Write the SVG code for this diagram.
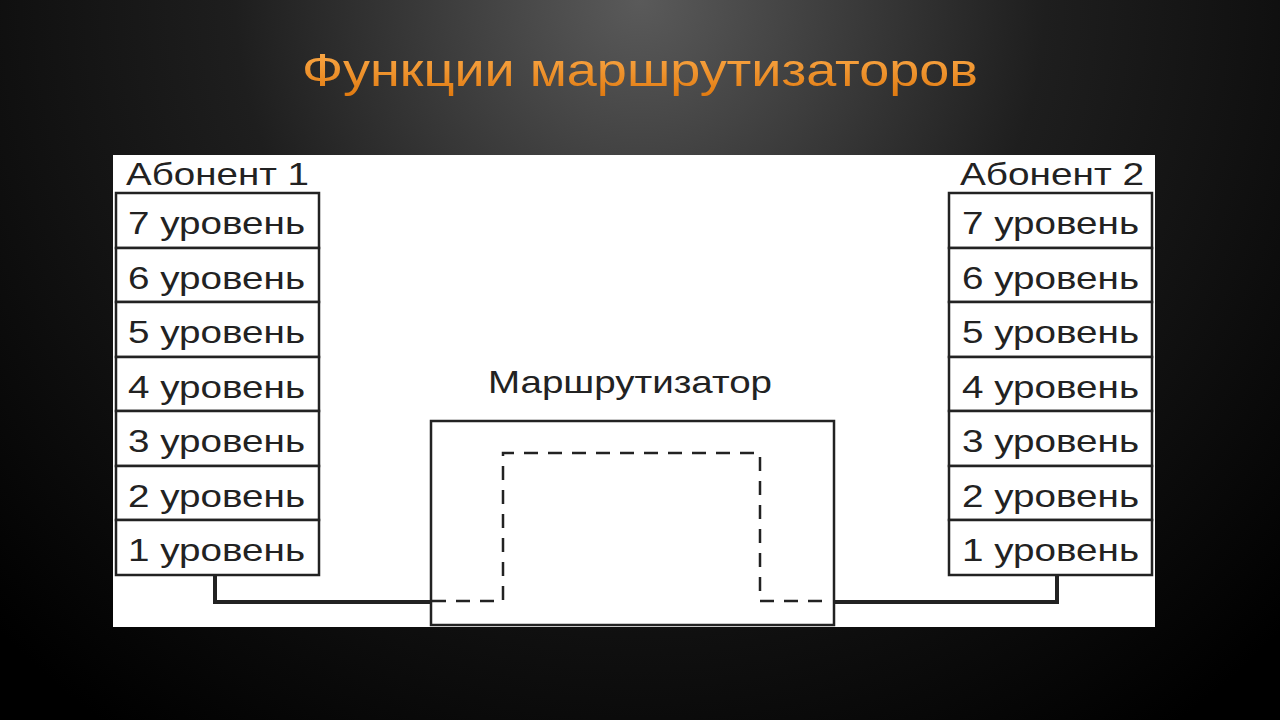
<svg xmlns="http://www.w3.org/2000/svg" width="1280" height="720" viewBox="0 0 1280 720">
<defs>
<radialGradient id="bg" cx="640" cy="0" r="900" gradientUnits="userSpaceOnUse">
<stop offset="0" stop-color="#5a5a5a"/><stop offset="0.45" stop-color="#1e1e1e"/><stop offset="1" stop-color="#000"/>
</radialGradient>
<linearGradient id="tg" x1="0" y1="0" x2="0" y2="1"><stop offset="0" stop-color="#ffb050"/><stop offset="1" stop-color="#e07a10"/></linearGradient>
<style>
.b{fill:#fff;stroke:#222;stroke-width:2.5}
.t{font-family:"Liberation Sans",Arial,sans-serif;font-size:32px;fill:#222}
.w{fill:none;stroke:#222;stroke-width:4}
.d{fill:none;stroke:#222;stroke-width:2.5;stroke-dasharray:14 10}
</style>
</defs>
<rect width="1280" height="720" fill="url(#bg)"/>
<text x="302" y="86" textLength="676" lengthAdjust="spacingAndGlyphs" font-family="Liberation Sans,Arial,sans-serif" font-size="46" fill="url(#tg)">Функции маршрутизаторов</text>
<rect x="113" y="155" width="1042" height="472" fill="#fff"/>
<g id="ab1">
<text class="t" x="126" y="185" textLength="183" lengthAdjust="spacingAndGlyphs">Абонент 1</text>
<rect class="b" x="116" y="193" width="203" height="55"/><text class="t" x="128" y="234" textLength="177" lengthAdjust="spacingAndGlyphs">7 уровень</text>
<rect class="b" x="116" y="248" width="203" height="54"/><text class="t" x="128" y="289" textLength="177" lengthAdjust="spacingAndGlyphs">6 уровень</text>
<rect class="b" x="116" y="302" width="203" height="55"/><text class="t" x="128" y="343" textLength="177" lengthAdjust="spacingAndGlyphs">5 уровень</text>
<rect class="b" x="116" y="357" width="203" height="54"/><text class="t" x="128" y="398" textLength="177" lengthAdjust="spacingAndGlyphs">4 уровень</text>
<rect class="b" x="116" y="411" width="203" height="55"/><text class="t" x="128" y="452" textLength="177" lengthAdjust="spacingAndGlyphs">3 уровень</text>
<rect class="b" x="116" y="466" width="203" height="54"/><text class="t" x="128" y="507" textLength="177" lengthAdjust="spacingAndGlyphs">2 уровень</text>
<rect class="b" x="116" y="520" width="203" height="55"/><text class="t" x="128" y="561" textLength="177" lengthAdjust="spacingAndGlyphs">1 уровень</text>
</g>
<g id="ab2">
<text class="t" x="960" y="185" textLength="184" lengthAdjust="spacingAndGlyphs">Абонент 2</text>
<rect class="b" x="949" y="193" width="203" height="55"/><text class="t" x="962" y="234" textLength="177" lengthAdjust="spacingAndGlyphs">7 уровень</text>
<rect class="b" x="949" y="248" width="203" height="54"/><text class="t" x="962" y="289" textLength="177" lengthAdjust="spacingAndGlyphs">6 уровень</text>
<rect class="b" x="949" y="302" width="203" height="55"/><text class="t" x="962" y="343" textLength="177" lengthAdjust="spacingAndGlyphs">5 уровень</text>
<rect class="b" x="949" y="357" width="203" height="54"/><text class="t" x="962" y="398" textLength="177" lengthAdjust="spacingAndGlyphs">4 уровень</text>
<rect class="b" x="949" y="411" width="203" height="55"/><text class="t" x="962" y="452" textLength="177" lengthAdjust="spacingAndGlyphs">3 уровень</text>
<rect class="b" x="949" y="466" width="203" height="54"/><text class="t" x="962" y="507" textLength="177" lengthAdjust="spacingAndGlyphs">2 уровень</text>
<rect class="b" x="949" y="520" width="203" height="55"/><text class="t" x="962" y="561" textLength="177" lengthAdjust="spacingAndGlyphs">1 уровень</text>
</g>
<g id="router">
<text class="t" x="488" y="393" textLength="284" lengthAdjust="spacingAndGlyphs">Маршрутизатор</text>
<rect class="b" x="431" y="421" width="403" height="204"/>
</g>
<g id="connectors">
<path class="w" d="M215 575 V602 H431"/>
<path class="w" d="M1057 575 V602 H834"/>
<path class="d" d="M432 601 H503 V453 H760 V601 H832"/>
</g>
</svg>
